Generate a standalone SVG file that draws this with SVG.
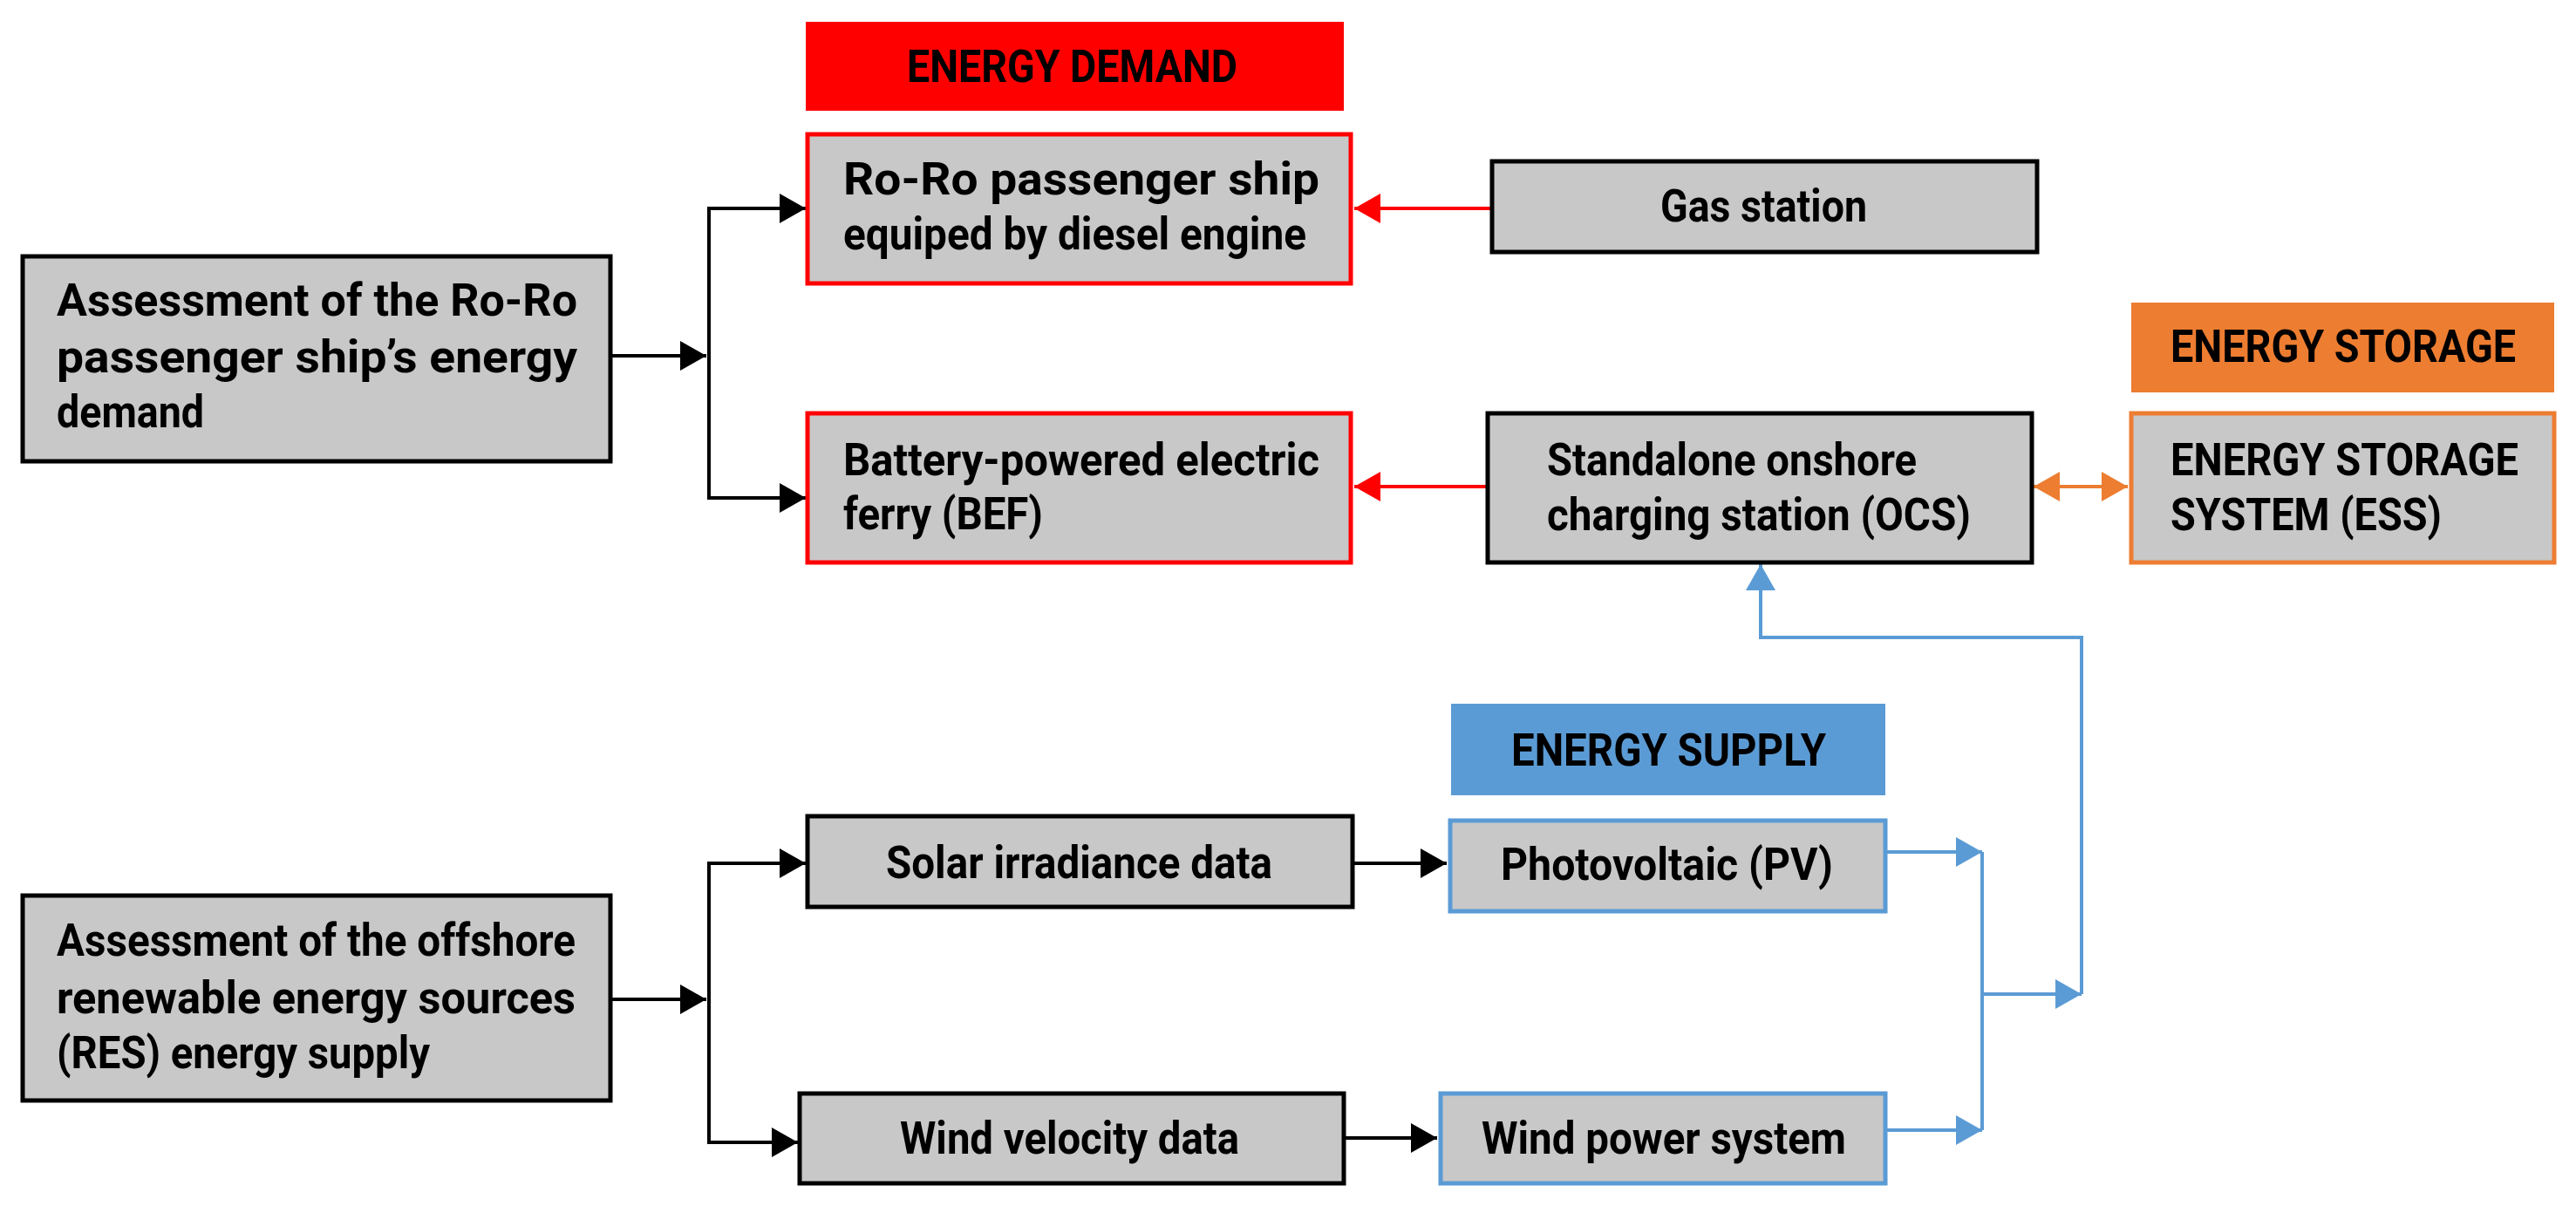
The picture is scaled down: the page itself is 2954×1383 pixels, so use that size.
<svg xmlns="http://www.w3.org/2000/svg" width="2954" height="1383" viewBox="0 0 2954 1383">
<style>
.b{fill:#c8c8c8;stroke-width:5}
.k{stroke:#000}.r{stroke:#ff0000}.o{stroke:#ed7d31}.u{stroke:#5b9bd5}
text{font-family:Roboto,"Liberation Sans",sans-serif;font-weight:bold;font-size:52px;fill:#000}
.c{fill:none;stroke-width:4}
</style>
<defs>
<marker id="ak" markerUnits="userSpaceOnUse" markerWidth="32" markerHeight="34" refX="30" refY="17" orient="auto"><path d="M0,0L30,17L0,34z" fill="#000"/></marker>
<marker id="ar" markerUnits="userSpaceOnUse" markerWidth="32" markerHeight="34" refX="30" refY="17" orient="auto"><path d="M0,0L30,17L0,34z" fill="#f00"/></marker>
<marker id="au" markerUnits="userSpaceOnUse" markerWidth="32" markerHeight="34" refX="30" refY="17" orient="auto"><path d="M0,0L30,17L0,34z" fill="#5b9bd5"/></marker>
<marker id="ao" markerUnits="userSpaceOnUse" markerWidth="32" markerHeight="34" refX="30" refY="17" orient="auto-start-reverse"><path d="M0,0L30,17L0,34z" fill="#ed7d31"/></marker>
</defs>
<g id="connectors">
<path class="c k" d="M700,408H810" marker-end="url(#ak)"/>
<path class="c k" d="M924,239H813V571H924" marker-end="url(#ak)"/>
<path class="c k" d="M813,239H924" marker-end="url(#ak)"/>
<path class="c r" d="M1709,239H1553" marker-end="url(#ar)"/>
<path class="c r" d="M1704,558H1553" marker-end="url(#ar)"/>
<path class="c o" d="M2332,558H2440" marker-start="url(#ao)" marker-end="url(#ao)"/>
<path class="c k" d="M700,1146H810" marker-end="url(#ak)"/>
<path class="c k" d="M813,1146V990H924" marker-end="url(#ak)"/>
<path class="c k" d="M813,1146V1310H915" marker-end="url(#ak)"/>
<path class="c k" d="M1551,990H1659" marker-end="url(#ak)"/>
<path class="c k" d="M1541,1305H1648" marker-end="url(#ak)"/>
<path class="c u" d="M2162,977H2273" marker-end="url(#au)"/>
<path class="c u" d="M2162,1296H2273" marker-end="url(#au)"/>
<path class="c u" d="M2273,977V1296M2273,1140H2387" marker-end="url(#au)"/>
<path class="c u" d="M2387,1140V731H2019V647" marker-end="url(#au)"/>
</g>
<g id="label-demand"><rect x="924" y="25" width="617" height="102" fill="#ff0000"/><text x="1040" y="94" textLength="379" lengthAdjust="spacingAndGlyphs">ENERGY DEMAND</text></g>
<g id="label-storage"><rect x="2444" y="347" width="485" height="103" fill="#ed7d31"/><text x="2489" y="415" textLength="396" lengthAdjust="spacingAndGlyphs">ENERGY STORAGE</text></g>
<g id="label-supply"><rect x="1664" y="807" width="498" height="105" fill="#5b9bd5"/><text x="1733" y="878" textLength="361" lengthAdjust="spacingAndGlyphs">ENERGY SUPPLY</text></g>
<g id="ship-demand"><rect class="b k" x="26" y="294" width="674" height="235"/>
<text x="65" y="362" textLength="597" lengthAdjust="spacingAndGlyphs">Assessment  of  the  Ro-Ro</text>
<text x="65" y="427" textLength="597" lengthAdjust="spacingAndGlyphs">passenger   ship’s   energy</text>
<text x="65" y="490" textLength="169" lengthAdjust="spacingAndGlyphs">demand</text></g>
<g id="roro"><rect class="b r" x="926" y="154" width="623" height="171"/>
<text x="967" y="223" textLength="546" lengthAdjust="spacingAndGlyphs">Ro-Ro   passenger   ship</text>
<text x="967" y="286" textLength="531" lengthAdjust="spacingAndGlyphs">equiped by diesel engine</text></g>
<g id="gas"><rect class="b k" x="1711" y="185" width="625" height="104"/>
<text x="1904" y="254" textLength="237" lengthAdjust="spacingAndGlyphs">Gas station</text></g>
<g id="bef"><rect class="b r" x="926" y="474" width="623" height="171"/>
<text x="967" y="545" textLength="546" lengthAdjust="spacingAndGlyphs">Battery-powered  electric</text>
<text x="967" y="607" textLength="229" lengthAdjust="spacingAndGlyphs">ferry (BEF)</text></g>
<g id="ocs"><rect class="b k" x="1706" y="474" width="624" height="171"/>
<text x="1774" y="545" textLength="424" lengthAdjust="spacingAndGlyphs">Standalone onshore</text>
<text x="1774" y="608" textLength="486" lengthAdjust="spacingAndGlyphs">charging station (OCS)</text></g>
<g id="ess"><rect class="b o" x="2444" y="474" width="485" height="171"/>
<text x="2489" y="545" textLength="399" lengthAdjust="spacingAndGlyphs">ENERGY STORAGE</text>
<text x="2489" y="608" textLength="311" lengthAdjust="spacingAndGlyphs">SYSTEM (ESS)</text></g>
<g id="res"><rect class="b k" x="26" y="1027" width="674" height="235"/>
<text x="65" y="1096" textLength="595" lengthAdjust="spacingAndGlyphs">Assessment of the offshore</text>
<text x="65" y="1162" textLength="595" lengthAdjust="spacingAndGlyphs">renewable  energy  sources</text>
<text x="65" y="1225" textLength="428" lengthAdjust="spacingAndGlyphs">(RES) energy supply</text></g>
<g id="solar"><rect class="b k" x="926" y="936" width="625" height="104"/>
<text x="1016" y="1007" textLength="443" lengthAdjust="spacingAndGlyphs">Solar irradiance data</text></g>
<g id="windv"><rect class="b k" x="917" y="1254" width="624" height="103"/>
<text x="1032" y="1323" textLength="389" lengthAdjust="spacingAndGlyphs">Wind velocity data</text></g>
<g id="pv"><rect class="b u" x="1663" y="941" width="499" height="104"/>
<text x="1721" y="1009" textLength="381" lengthAdjust="spacingAndGlyphs">Photovoltaic (PV)</text></g>
<g id="windp"><rect class="b u" x="1652" y="1254" width="510" height="103"/>
<text x="1699" y="1323" textLength="418" lengthAdjust="spacingAndGlyphs">Wind power system</text></g>
</svg>
